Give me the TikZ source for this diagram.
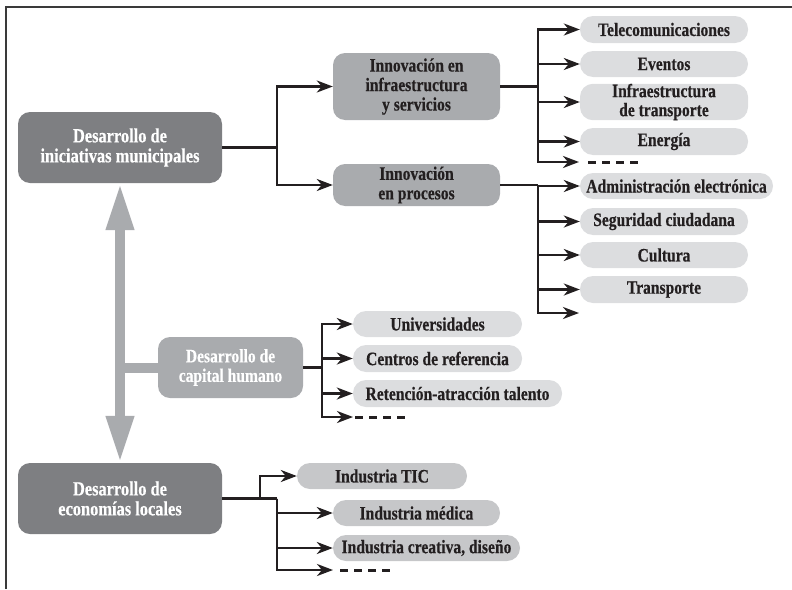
\documentclass[tikz,border=0pt]{standalone}
\usepackage{fontspec}
\usetikzlibrary{arrows.meta}
\newfontfamily\boxfont[FakeStretch=0.82, BoldFeatures={FakeBold=0.4}]{Liberation Serif}
\definecolor{darkbox}{HTML}{7E7F82}
\definecolor{midbox}{HTML}{A9ABAE}
\definecolor{leafbox}{HTML}{DCDDDF}
\definecolor{indbox}{HTML}{C6C7C9}
\definecolor{ink}{HTML}{231F20}
\definecolor{frame}{HTML}{3A3A3A}
\tikzset{
  mainnode/.style={rounded corners=12pt, fill=darkbox, text=white, align=center, inner sep=0pt,
    font=\boxfont\bfseries\fontsize{20}{20}\selectfont},
  midnode/.style={rounded corners=12pt, fill=midbox, text=ink, align=center, inner sep=0pt,
    font=\boxfont\bfseries\fontsize{19}{19.5}\selectfont},
  capnode/.style={midnode, text=white},
  leafnode/.style={rounded corners=13pt, fill=leafbox, text=ink, align=center, inner sep=0pt,
    font=\boxfont\bfseries\fontsize{19}{19}\selectfont},
  indnode/.style={leafnode, fill=indbox},
  link/.style={line width=2.6pt, draw=ink},
  conn/.style={line width=2.6pt, draw=ink, -{Stealth[length=16pt,width=12pt,inset=5pt]}},
  dashline/.style={line width=3pt, draw=ink, dash pattern=on 8pt off 6pt},
  grayarrow/.style={line width=10pt, draw=midbox,
    {Triangle[length=47pt,width=26pt]}-{Triangle[length=47pt,width=26pt]}},
  graybar/.style={line width=10pt, draw=midbox}
}
\begin{document}
\begin{tikzpicture}[x=1pt,y=-1pt]
\useasboundingbox (0,0) rectangle (792,589);
% frame
\draw[line width=1.8pt, frame] (6,589) -- (6,7) -- (792,7);

% main nodes
\node[mainnode, minimum width=204pt, minimum height=71pt] (m1) at (120,147.5) {Desarrollo de\\iniciativas municipales};
\node[capnode, minimum width=145pt, minimum height=61pt] (m2) at (230.5,367.5) {Desarrollo de\\capital humano};
\node[mainnode, minimum width=204pt, minimum height=71pt] (m3) at (120,498.5) {Desarrollo de\\economías locales};

% innovation nodes
\node[midnode, minimum width=167pt, minimum height=67pt] (i1) at (416.5,86.5) {Innovación en\\infraestructura\\y servicios};
\node[midnode, minimum width=167pt, minimum height=42pt] (i2) at (416.5,185) {Innovación\\en procesos};

% leaves of i1
\node[leafnode, minimum width=168pt, minimum height=27pt] (tel) at (664,29.5) {Telecomunicaciones};
\node[leafnode, minimum width=168pt, minimum height=26pt] (eve) at (664,64) {Eventos};
\node[leafnode, minimum width=168pt, minimum height=36pt] (inf) at (664,102) {Infraestructura\\de transporte};
\node[leafnode, minimum width=168pt, minimum height=27pt] (ene) at (664,141.5) {Energía};

% leaves of i2
\node[leafnode, minimum width=193pt, minimum height=26pt] (adm) at (676.5,186) {Administración electrónica};
\node[leafnode, minimum width=168pt, minimum height=27pt] (seg) at (664,221.5) {Seguridad ciudadana};
\node[leafnode, minimum width=168pt, minimum height=26pt] (cul) at (664,255) {Cultura};
\node[leafnode, minimum width=168pt, minimum height=27pt] (tra) at (664,289.5) {Transporte};

% leaves of m2
\node[leafnode, minimum width=169pt, minimum height=26pt] (uni) at (437.5,324) {Universidades};
\node[leafnode, minimum width=169pt, minimum height=27pt] (cen) at (437.5,358.5) {Centros de referencia};
\node[leafnode, minimum width=209pt, minimum height=27pt] (ret) at (457.5,393.5) {Retención-atracción talento};

% leaves of m3
\node[indnode, minimum width=170pt, minimum height=26pt] (tic) at (382,476) {Industria TIC};
\node[indnode, minimum width=167pt, minimum height=26pt] (med) at (416.5,513) {Industria médica};
\node[indnode, minimum width=187pt, minimum height=26pt] (cre) at (426.5,548) {Industria creativa, diseño};

% gray double arrow
\coordinate (g1) at (120,367.5);
\draw[graybar] (g1) -- (m2.west);
\draw[grayarrow] (m1.south) -- (m3.north);

% connectors m1
\coordinate (j1) at (277,147.5);
\draw[link] (m1.east) -- (j1);
\draw[conn] (j1) |- (i1.west);
\draw[conn] (j1) |- (i2.west);

% connectors i1
\coordinate (j2) at (538,86.5);
\coordinate (a2) at (579,162);
\coordinate (d2s) at (588,162);
\coordinate (d2e) at (640,162);
\draw[link] (i1.east) -- (j2);
\draw[conn] (j2) |- (tel.west);
\draw[conn] (j2) |- (eve.west);
\draw[conn] (j2) |- (inf.west);
\draw[conn] (j2) |- (ene.west);
\draw[conn] (j2) |- (a2);
\draw[dashline] (d2s) -- (d2e);

% connectors i2
\coordinate (j3) at (538,185);
\coordinate (a3) at (579,313);
\draw[link] (i2.east) -- (j3);
\draw[conn] (j3) |- (adm.west);
\draw[conn] (j3) |- (seg.west);
\draw[conn] (j3) |- (cul.west);
\draw[conn] (j3) |- (tra.west);
\draw[conn] (j3) |- (a3);

% connectors m2
\coordinate (j4) at (322,367.5);
\coordinate (a4) at (353,417);
\coordinate (d4s) at (355,417);
\coordinate (d4e) at (406,417);
\draw[link] (m2.east) -- (j4);
\draw[conn] (j4) |- (uni.west);
\draw[conn] (j4) |- (cen.west);
\draw[conn] (j4) |- (ret.west);
\draw[conn] (j4) |- (a4);
\draw[dashline] (d4s) -- (d4e);

% connectors m3
\coordinate (j5) at (260,498.5);
\coordinate (j6) at (277,498.5);
\coordinate (a6) at (333,570);
\coordinate (d6s) at (340,570);
\coordinate (d6e) at (392,570);
\draw[link] (m3.east) -- (j6);
\draw[conn] (j5) |- (tic.west);
\draw[conn] (j6) |- (med.west);
\draw[conn] (j6) |- (cre.west);
\draw[conn] (j6) |- (a6);
\draw[dashline] (d6s) -- (d6e);
\end{tikzpicture}
\end{document}
